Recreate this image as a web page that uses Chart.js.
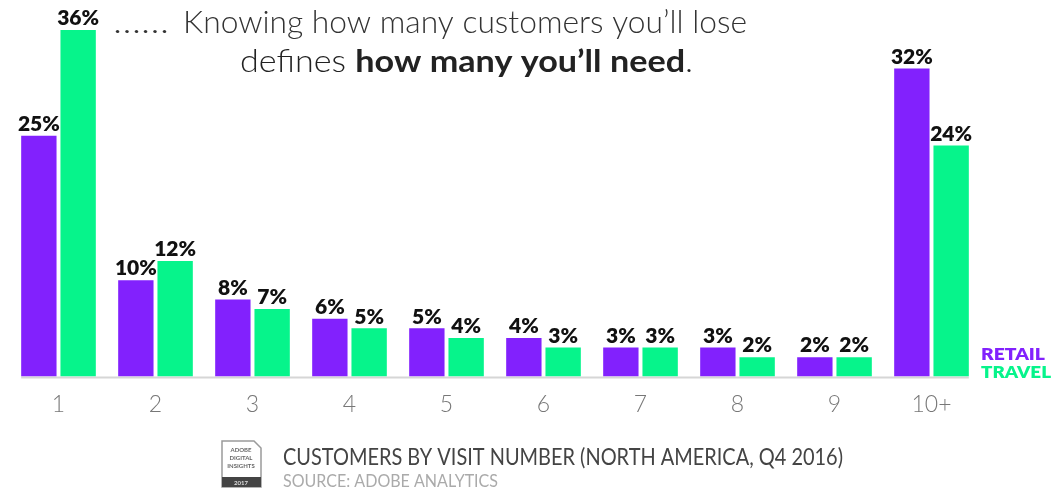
<!DOCTYPE html>
<html lang="en">
<head>
  <meta charset="UTF-8" />
  <title>Customers by Visit Number</title>
  <script src="https://cdn.jsdelivr.net/npm/chart.js"></script>
  <style>
    body {
      margin: 0;
      background: #fff;
    }
    #wrap {
      position: relative;
      width: 1051px;
      height: 490px;
    }
  </style>
</head>
<body>
  <div id="wrap">
    <canvas id="chart" width="1051" height="490"></canvas>
  </div>

  <script>
    const visits = ['1', '2', '3', '4', '5', '6', '7', '8', '9', '10+'];
    const retail = [25, 10, 8, 6, 5, 4, 3, 3, 2, 32];
    const travel = [36, 12, 7, 5, 4, 3, 3, 2, 2, 24];

    const purple = '#8221fd';
    const green = '#06f48b';

    // squeeze a string horizontally so it fills a given width
    function fitText(ctx, text, x, y, width, font, color) {
      ctx.save();
      ctx.font = font;
      ctx.fillStyle = color;
      ctx.textBaseline = 'alphabetic';
      ctx.textAlign = 'left';
      const w = ctx.measureText(text).width;
      ctx.translate(x, y);
      ctx.scale(width / w, 1);
      ctx.fillText(text, 0, 0);
      ctx.restore();
    }

    // line of mixed regular / bold runs, fitted to a width
    function fitRuns(ctx, runs, x, y, width, color) {
      ctx.save();
      let total = 0;
      runs.forEach(r => { ctx.font = r.font; r.w = ctx.measureText(r.text).width; total += r.w; });
      ctx.translate(x, y);
      ctx.scale(width / total, 1);
      ctx.fillStyle = color;
      ctx.textBaseline = 'alphabetic';
      let cx = 0;
      runs.forEach(r => { ctx.font = r.font; ctx.fillText(r.text, cx, 0); cx += r.w; });
      ctx.restore();
    }

    const baseLine = {
      id: 'baseLine',
      beforeDatasetsDraw(chart) {
        const ctx = chart.ctx;
        const first = chart.getDatasetMeta(0).data[0];
        const last = chart.getDatasetMeta(1).data[visits.length - 1];
        const y = chart.chartArea.bottom + 1;
        ctx.save();
        ctx.strokeStyle = '#d6d6d6';
        ctx.lineWidth = 2;
        ctx.beginPath();
        ctx.moveTo(first.x - first.width / 2, y);
        ctx.lineTo(last.x + last.width / 2, y);
        ctx.stroke();
        ctx.restore();
      }
    };

    const valueLabels = {
      id: 'valueLabels',
      afterDatasetsDraw(chart) {
        const ctx = chart.ctx;
        ctx.save();
        ctx.font = '800 21px Lato';
        ctx.fillStyle = '#111';
        ctx.textAlign = 'center';
        ctx.textBaseline = 'bottom';
        chart.data.datasets.forEach((ds, i) => {
          chart.getDatasetMeta(i).data.forEach((bar, j) => {
            ctx.fillText(ds.data[j] + '%', bar.x, bar.y - 1);
          });
        });
        ctx.restore();
      }
    };

    const decor = {
      id: 'decor',
      afterDraw(chart) {
        const ctx = chart.ctx;

        // headline
        fitText(ctx, '……', 113, 33, 56, '300 31px Lato', '#333');
        fitText(ctx, 'Knowing how many customers you’ll lose', 183, 33, 564, '300 31px Lato', '#333');
        fitRuns(ctx, [
          { text: 'defines ', font: '300 31px Lato' },
          { text: 'how many you’ll need', font: '700 31px Lato' },
          { text: '.', font: '300 31px Lato' }
        ], 240, 72, 453, '#222');

        // series key
        fitText(ctx, 'RETAIL', 981, 360, 64, '800 17px Lato', purple);
        fitText(ctx, 'TRAVEL', 981, 378, 70, '800 17px Lato', green);

        // caption
        fitText(ctx, 'CUSTOMERS BY VISIT NUMBER (NORTH AMERICA, Q4 2016)', 283, 465, 560, '400 23px Lato', '#444');
        fitText(ctx, 'SOURCE: ADOBE ANALYTICS', 283, 487, 215, '400 17px Lato', '#aaa');

        // badge
        ctx.save();
        ctx.strokeStyle = '#9a9a9a';
        ctx.lineWidth = 1.5;
        ctx.beginPath();
        ctx.moveTo(222, 441);
        ctx.lineTo(254, 441);
        ctx.lineTo(261, 448);
        ctx.lineTo(261, 487);
        ctx.lineTo(222, 487);
        ctx.closePath();
        ctx.stroke();
        ctx.fillStyle = '#444';
        ctx.fillRect(222, 477, 39, 10);
        ctx.font = '700 6px Lato';
        ctx.fillStyle = '#666';
        ctx.textAlign = 'center';
        ctx.fillText('ADOBE', 241, 452);
        ctx.fillText('DIGITAL', 241, 460);
        ctx.fillText('INSIGHTS', 241, 468);
        ctx.fillStyle = '#ddd';
        ctx.fillText('2017', 241, 485);
        ctx.restore();
      }
    };

    new Chart(document.getElementById('chart').getContext('2d'), {
      type: 'bar',
      data: {
        labels: visits,
        datasets: [
          { label: 'RETAIL', data: retail, backgroundColor: purple, borderWidth: 0 },
          { label: 'TRAVEL', data: travel, backgroundColor: green, borderWidth: 0 }
        ]
      },
      options: {
        responsive: false,
        animation: false,
        categoryPercentage: 0.81,
        barPercentage: 0.9,
        layout: { padding: { left: 10, right: 71, top: 30, bottom: 58 } },
        plugins: {
          legend: { display: false },
          title: { display: false },
          tooltip: { enabled: false }
        },
        scales: {
          x: {
            grid: { display: false, drawTicks: false },
            border: { display: false },
            ticks: {
              padding: 14,
              color: '#777',
              font: { family: 'Lato', weight: '300', size: 23 }
            }
          },
          y: {
            display: false,
            min: 0,
            max: 36
          }
        }
      },
      plugins: [baseLine, valueLabels, decor]
    });
  </script>
</body>
</html>
